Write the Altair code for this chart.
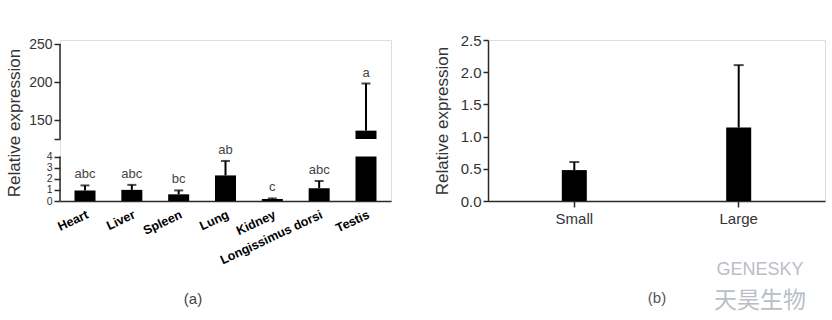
import altair as alt
import pandas as pd

# ---- data ----
tissues = ["Heart", "Liver", "Spleen", "Lung", "Kidney", "Longissimus dorsi", "Testis"]
tissue_mean = [0.95, 1.0, 0.6, 2.3, 0.18, 1.15, 136]
tissue_err = [0.45, 0.45, 0.35, 1.3, 0.05, 0.65, 62]
tissue_letters = ["abc", "abc", "bc", "ab", "c", "abc", "a"]

sizes = ["Small", "Large"]
size_mean = [0.48, 1.14]
size_err = [0.125, 0.97]

# broken axis segments of panel (a)
seg_low = [0, 4]
seg_high = [125, 250]
a_ticks = [0, 1, 2, 3, 4, 125, 150, 200, 250]
b_ticks = [0.0, 0.5, 1.0, 1.5, 2.0, 2.5]

panel_labels = ["(a)", "(b)"]
watermark = ["GENESKY", "天昊生物"]

FONT = "Liberation Sans"
AX = "#2a2a2a"

# ---- tables ----
df_a = pd.DataFrame({
    "tissue": tissues,
    "mean": tissue_mean,
    "top": [m + e for m, e in zip(tissue_mean, tissue_err)],
    "low_top": [min(m, seg_low[1]) for m in tissue_mean],
    "letter": tissue_letters,
    "base": [0] * len(tissues),
})
df_high = pd.DataFrame({
    "tissue": [t for t, m in zip(tissues, tissue_mean) if m > seg_high[0]],
    "mean": [m for m in tissue_mean if m > seg_high[0]],
    "start": [seg_high[0] for m in tissue_mean if m > seg_high[0]],
})
df_seg = pd.DataFrame({"y0": [seg_low[0], seg_high[0]], "y1": [seg_low[1], seg_high[1]]})

df_b = pd.DataFrame({
    "size": sizes,
    "mean": size_mean,
    "top": [m + e for m, e in zip(size_mean, size_err)],
    "base": [0] * len(sizes),
})

# ---- panel (a) ----
H = 161
yscale_a = alt.Scale(domain=[seg_low[0], seg_low[1], seg_high[0], seg_high[1]],
                     range=[H, 116.5, 99, 4], nice=False, zero=False)
axis_a = alt.Axis(title="Relative expression", values=a_ticks, domain=False,
                  labelExpr="datum.value == 125 ? '' : datum.label",
                  labelOverlap=False, labelFlush=False,
                  grid=False, tickColor=AX, tickWidth=1.5, tickSize=6,
                  labelFontSize={"condition": {"test": "datum.value <= 4", "value": 10.5},
                                 "value": 14},
                  labelColor="#333", labelPadding=2,
                  titleFontSize=17, titleFontWeight="normal", titleColor="#333",
                  titlePadding=5)


def ya(field):
    return alt.Y(field, type="quantitative", scale=yscale_a, axis=axis_a)


xa = alt.X("tissue:N", sort=tissues,
           scale=alt.Scale(paddingInner=0, paddingOuter=0.034),
           axis=alt.Axis(title=None, labelAngle=335, labelFontWeight="bold",
                         labelFontSize=12.5, labelColor="black", ticks=False,
                         domainColor=AX, domainWidth=1.5, labelPadding=7,
                         labelAlign="right", labelBaseline="top"))

base_a = alt.Chart(df_a)
bars_low = base_a.mark_bar(size=21, color="black").encode(x=xa, y=ya("low_top"), y2="base")
bars_high = alt.Chart(df_high).mark_bar(size=21, color="black").encode(x=xa, y=ya("start"), y2="mean")
err_a = base_a.mark_rule(color="black", strokeWidth=2).encode(x=xa, y=ya("mean"), y2="top")
cap_a = base_a.mark_tick(color="black", size=9, thickness=2).encode(x=xa, y=ya("top"))
txt_a = base_a.mark_text(baseline="bottom", dy=-4, fontSize=13, color="#444", font=FONT).encode(
    x=xa, y=ya("top"), text="letter:N")
yline_a = alt.Chart(df_seg).mark_rule(color=AX, strokeWidth=1.5).encode(
    x=alt.value(0), y=ya("y0"), y2="y1")
lab_a = alt.Chart(pd.DataFrame({"t": [panel_labels[0]]})).mark_text(
    fontSize=15, color="#444", font=FONT).encode(x=alt.value(133), y=alt.value(259), text="t:N")

panel_a = alt.layer(bars_low, bars_high, err_a, cap_a, txt_a, yline_a, lab_a).properties(
    width=331, height=H)

# ---- panel (b) ----
yscale_b = alt.Scale(domain=[0, 2.5], nice=False)
axis_b = alt.Axis(title="Relative expression", values=b_ticks, format=".1f", grid=False,
                  labelOverlap=False,
                  domainColor=AX, domainWidth=1.5, tickColor=AX, tickWidth=1.5, tickSize=5,
                  labelFontSize=15, labelColor="#333", labelPadding=2,
                  titleFontSize=17, titleFontWeight="normal", titleColor="#333",
                  titlePadding=9)


def yb(field):
    return alt.Y(field, type="quantitative", scale=yscale_b, axis=axis_b)


xb = alt.X("size:N", sort=sizes, scale=alt.Scale(paddingInner=0, paddingOuter=0.025),
           axis=alt.Axis(title=None, labelAngle=0, labelFontSize=15, labelColor="#333",
                         tickColor=AX, tickWidth=1.5, tickSize=6,
                         domainColor=AX, domainWidth=1.5, labelPadding=4))

base_b = alt.Chart(df_b)
bars_b = base_b.mark_bar(size=25, color="black").encode(x=xb, y=yb("mean"), y2="base")
err_b = base_b.mark_rule(color="black", strokeWidth=2).encode(x=xb, y=yb("mean"), y2="top")
cap_b = base_b.mark_tick(color="black", size=10, thickness=2).encode(x=xb, y=yb("top"))
lab_b = alt.Chart(pd.DataFrame({"t": [panel_labels[1]]})).mark_text(
    fontSize=15, color="#555", font=FONT).encode(x=alt.value(169), y=alt.value(258), text="t:N")
wm1 = alt.Chart(pd.DataFrame({"t": [watermark[0]]})).mark_text(
    fontSize=18, color="#b9bec7", font=FONT).encode(x=alt.value(272), y=alt.value(230), text="t:N")
wm2 = alt.Chart(pd.DataFrame({"t": [watermark[1]]})).mark_text(
    fontSize=23, color="#b9bec7", font="Noto Sans CJK SC").encode(
    x=alt.value(272), y=alt.value(261), text="t:N")

panel_b = alt.layer(bars_b, err_b, cap_b, lab_b, wm1, wm2).properties(width=337, height=161)

chart = alt.hconcat(panel_a, panel_b, spacing=40).properties(
    padding={"left": 5, "top": 32, "right": 5, "bottom": 5}
).configure_view(stroke=None).configure(font=FONT)

chart.save("out.html", embed_options={"renderer": "svg", "actions": False})
